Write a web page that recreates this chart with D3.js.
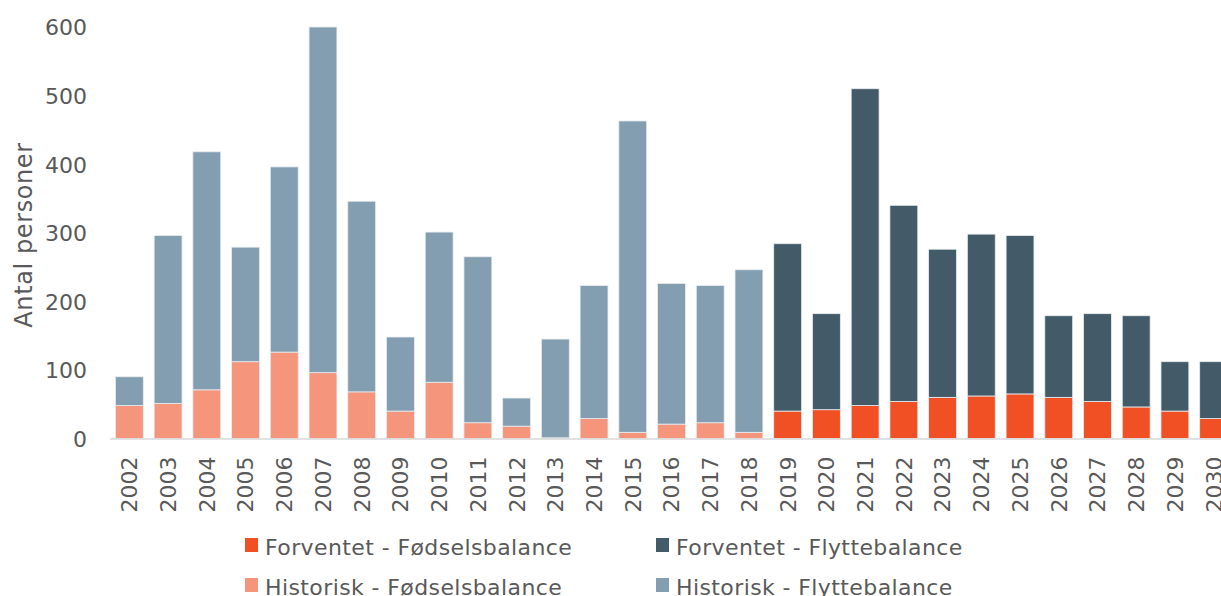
<!DOCTYPE html>
<html lang="da">
<head>
<meta charset="utf-8">
<title>Befolkningsudvikling</title>
<script src="https://cdn.jsdelivr.net/npm/d3@7"></script>
<style>
  * { margin: 0; padding: 0; }
  body { background: #fff; font-family: "DejaVu Sans", Verdana, sans-serif; }
  svg { display: block; }
  .tick text { fill: #595959; }
  .legend text { fill: #595959; font-size: 22px; letter-spacing: 0.4px; }
</style>
</head>
<body>
<div id="chart"></div>
<script>
// data
var years = ["2002","2003","2004","2005","2006","2007","2008","2009","2010","2011","2012","2013","2014","2015",
             "2016","2017","2018","2019","2020","2021","2022","2023","2024","2025","2026","2027","2028","2029","2030"];
var fodselsbalance = [48,51,71,112,126,96,68,40,82,23,18,1,29,9,21,23,9,
                      40,42,48,54,60,62,65,60,54,46,40,29];
var flyttebalance  = [42,245,347,167,270,504,278,108,219,242,41,144,194,454,205,200,237,
                      244,140,462,286,216,236,231,119,128,133,72,83];
var firstForecast = "2019";
var yTicks = [0,100,200,300,400,500,600];
var legendLabels = ["Forventet - Fødselsbalance","Forventet - Flyttebalance",
                    "Historisk - Fødselsbalance","Historisk - Flyttebalance"];

var colors = {
  forv_fodsel: "#f05023",
  forv_flytte: "#435a69",
  hist_fodsel: "#f5957b",
  hist_flytte: "#839eb1"
};

var w = 1221, h = 596;

var svg = d3.select("#chart").append("svg")
    .attr("width", w)
    .attr("height", h);

var x = d3.scaleBand()
    .domain(years)
    .range([110, 1233])
    .paddingInner(0.28)
    .paddingOuter(0.14);

var y = d3.scaleLinear()
    .domain([0, 600])
    .range([438.5, 27]);

var rows = years.map(function(yr, i) {
  return {year: yr, fodsel: fodselsbalance[i], flytte: flyttebalance[i]};
});

var stack = d3.stack().keys(["fodsel", "flytte"]);
var series = stack(rows);

function isForecast(yr) { return +yr >= +firstForecast; }

svg.append("g").selectAll("g")
    .data(series)
    .enter().append("g")
    .selectAll("rect")
    .data(function(s) { return s.map(function(d) { d.key = s.key; return d; }); })
    .enter().append("rect")
      .attr("x", function(d) { return x(d.data.year); })
      .attr("width", x.bandwidth())
      .attr("y", function(d) { return y(d[1]); })
      .attr("height", function(d) { return y(d[0]) - y(d[1]); })
      .attr("fill", function(d) {
        return colors[(isForecast(d.data.year) ? "forv_" : "hist_") + d.key];
      })
      .attr("stroke", "#e9edf0")
      .attr("stroke-width", 0.8);

// baseline
svg.append("line")
    .attr("x1", 110).attr("x2", w)
    .attr("y1", y(0) + 0.5).attr("y2", y(0) + 0.5)
    .attr("stroke", "#d9d9d9")
    .attr("stroke-width", 1.5);

// y axis
var yAxis = svg.append("g")
    .attr("transform", "translate(110,0)")
    .call(d3.axisLeft(y).tickValues(yTicks).tickSize(0).tickPadding(23));
yAxis.select(".domain").remove();
yAxis.selectAll("text")
    .style("font-family", "'DejaVu Sans', Verdana, sans-serif")
    .style("font-size", "22px")
    .attr("dy", "0.36em");

svg.append("text")
    .attr("transform", "translate(23,235) rotate(-90)")
    .attr("text-anchor", "middle")
    .attr("dy", "0.36em")
    .style("font-size", "24px")
    .style("letter-spacing", "0.6px")
    .style("fill", "#595959")
    .text("Antal personer");

// x axis
var xAxis = svg.append("g")
    .attr("transform", "translate(0," + y(0) + ")")
    .call(d3.axisBottom(x).tickSize(0));
xAxis.select(".domain").remove();
xAxis.selectAll("text")
    .style("font-family", "'DejaVu Sans', Verdana, sans-serif")
    .style("font-size", "22px")
    .attr("transform", "rotate(-90)")
    .attr("text-anchor", "end")
    .attr("x", -18)
    .attr("y", 0)
    .attr("dy", "0.36em");

// legend
var legendKeys = ["forv_fodsel", "forv_flytte", "hist_fodsel", "hist_flytte"];
var legend = svg.append("g").attr("class", "legend")
    .selectAll("g")
    .data(legendKeys)
    .enter().append("g")
    .attr("transform", function(d, i) {
      return "translate(" + (245 + (i % 2) * 411) + "," + (538 + Math.floor(i / 2) * 40) + ")";
    });

legend.append("rect")
    .attr("width", 13)
    .attr("height", 14)
    .attr("fill", function(d) { return colors[d]; });

legend.append("text")
    .attr("x", 20)
    .attr("y", 17)
    .text(function(d, i) { return legendLabels[i]; });
</script>
</body>
</html>
